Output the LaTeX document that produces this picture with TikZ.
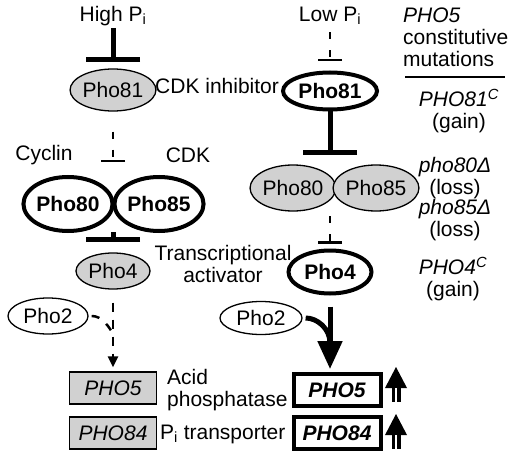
\documentclass[tikz,border=0pt]{standalone}
\usepackage{fontspec}
\setmainfont{Liberation Sans}
\usetikzlibrary{shapes.geometric, arrows.meta}

\definecolor{stipple}{gray}{0.82}
\newcommand{\figfont}{\fontsize{21}{22}\selectfont}

\tikzstyle{lbl} = [inner sep=0pt]
\tikzstyle{prot} = [ellipse, draw, line width=1.3pt, fill=stipple, inner sep=0pt]
\tikzstyle{hot} = [ellipse, draw, line width=4pt, fill=white, inner sep=0pt, font=\figfont\bfseries]
\tikzstyle{idle} = [ellipse, draw, line width=1.3pt, fill=white, inner sep=0pt]
\tikzstyle{gene} = [rectangle, draw, line width=1.3pt, fill=stipple, font=\figfont\itshape,
    minimum width=87pt, minimum height=32pt, inner sep=0pt]
\tikzstyle{hotgene} = [rectangle, draw, line width=4pt, fill=white, font=\figfont\bfseries\itshape,
    minimum width=87pt, minimum height=32pt, inner sep=0pt]
\tikzstyle{block} = [line width=5pt, -{Bar[width=54pt, line width=5pt]}]
\tikzstyle{weak} = [line width=2.5pt, dash pattern=on 7pt off 11pt, -{Bar[width=24pt, line width=2.5pt]}]
\tikzstyle{weakarr} = [line width=2.5pt, dash pattern=on 9pt off 8pt, -{Triangle[length=11pt, width=10pt]}]
\tikzstyle{strong} = [line width=5pt, -{Triangle[length=28pt, width=24pt]}]

% big up arrow with split shaft, tip at (#1,#2)
\newcommand{\uparr}[2]{
    \fill (#1-11,#2+21) -- (#1,#2) -- (#1+11,#2+21) -- cycle;
    \fill (#1-4.5,#2+20) rectangle (#1+4.5,#2+35);
    \draw[white, line width=1.5pt] (#1,#2+21) -- (#1,#2+36);
}

\begin{document}
\begin{tikzpicture}[x=1pt, y=-1pt, font=\figfont]
\useasboundingbox[fill=white] (0,0) rectangle (510,457);

% high Pi
\node[lbl] (hiP) at (113,16) {High P\textsubscript{i}};
\node[prot, minimum width=78pt, minimum height=42pt] (p81a) at (113,90) {Pho81};
\node[lbl, anchor=west] (inhib) at (155,86) {CDK inhibitor};
\node[lbl] (cyc) at (44,155) {Cyclin};
\node[lbl] (cdk) at (188,155) {CDK};
\node[hot, minimum width=89pt, minimum height=54pt] (p80a) at (68,204) {Pho80};
\node[hot, minimum width=89pt, minimum height=54pt] (p85a) at (159,204) {Pho85};
\coordinate (cxa) at (113,162);
\coordinate (cxa2) at (113,232);
\node[prot, minimum width=74pt, minimum height=36pt] (p4a) at (113,271) {Pho4};
\node[lbl, align=center] (tact) at (223,264) {Transcriptional\\activator};
\node[idle, minimum width=80pt, minimum height=36pt] (p2a) at (48,316) {Pho2};
\coordinate (mrga) at (115,337);
\node[gene] (g5a) at (113,388) {PHO5};
\node[lbl, align=left, anchor=west] (acid) at (167,390) {Acid\\phosphatase};
\node[gene] (g84a) at (113,433) {PHO84};
\node[lbl, anchor=west] (trans) at (160,434) {P\textsubscript{i} transporter};

\draw[block, shorten <=2pt, shorten >=6pt] (hiP) -- (p81a);
\draw[weak, shorten <=20pt] (p81a) -- (cxa);
\draw[block, shorten >=10pt] (cxa2) -- (p4a);
\draw[weakarr, shorten <=13pt, shorten >=4pt] (p4a) -- (g5a);
\draw[line width=2.5pt, dash pattern=on 8pt off 9pt, shorten <=3pt] (p2a.east) to[out=0, in=120] (mrga);

% low Pi
\node[lbl] (loP) at (330,16) {Low P\textsubscript{i}};
\node[hot, minimum width=94pt, minimum height=37pt] (p81b) at (330,91) {Pho81};
\coordinate (cxb) at (330,165);
\node[prot, minimum width=83pt, minimum height=46pt] (p80b) at (293,188) {Pho80};
\node[prot, minimum width=81pt, minimum height=46pt] (p85b) at (376,188) {Pho85};
\coordinate (cxb2) at (330,212);
\node[hot, minimum width=83pt, minimum height=43pt] (p4b) at (330,272) {Pho4};
\node[idle, minimum width=82pt, minimum height=33pt] (p2b) at (261,318) {Pho2};
\coordinate (mrgb) at (330,343);
\node[hotgene] (g5b) at (337,390) {PHO5};
\node[hotgene] (g84b) at (337,433) {PHO84};

\draw[weak, shorten <=7pt, shorten >=9pt] (loP) -- (p81b);
\draw[block, shorten >=10pt] (p81b) -- (cxb);
\draw[weak, shorten <=4pt, shorten >=5pt] (cxb2) -- (p4b);
\draw[strong, shorten <=11pt, shorten >=3pt] (p4b) -- (p4b |- g5b.north);
\draw[line width=5pt, shorten <=3pt] (p2b.east) to[out=0, in=90] (mrgb);
\uparr{396}{367}
\uparr{396}{414}

% mutations
\node[lbl, align=left, anchor=north west] (mut) at (403,8) {\textit{PHO5}\\constitutive\\mutations};
\draw[line width=2pt] (405,77) -- (505,77);
\node[lbl, align=center] (m81) at (459,111) {\textit{PHO81}\textsuperscript{\textit{C}}\\(gain)};
\node[lbl, align=center] (m80) at (455,178) {\textit{pho80Δ}\\(loss)};
\node[lbl, align=center] (m85) at (455,220) {\textit{pho85Δ}\\(loss)};
\node[lbl, align=center] (m4) at (453,279) {\textit{PHO4}\textsuperscript{\textit{C}}\\(gain)};
\end{tikzpicture}
\end{document}
